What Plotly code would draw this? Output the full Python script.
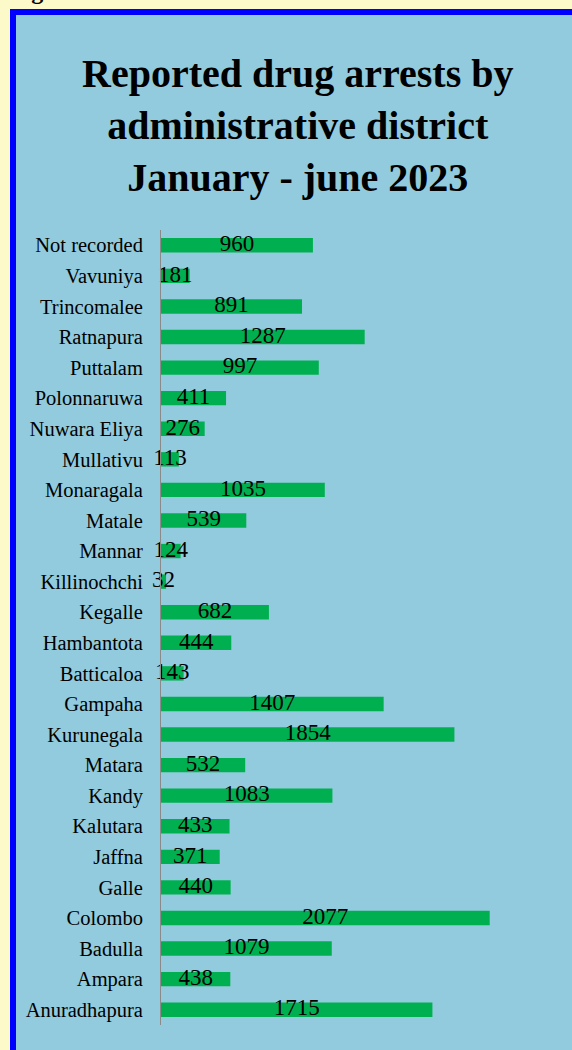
import plotly.graph_objects as go

districts = ["Not recorded", "Vavuniya", "Trincomalee", "Ratnapura", "Puttalam",
             "Polonnaruwa", "Nuwara Eliya", "Mullativu", "Monaragala", "Matale",
             "Mannar", "Killinochchi", "Kegalle", "Hambantota", "Batticaloa",
             "Gampaha", "Kurunegala", "Matara", "Kandy", "Kalutara", "Jaffna",
             "Galle", "Colombo", "Badulla", "Ampara", "Anuradhapura"]
arrests = [960, 181, 891, 1287, 997, 411, 276, 113, 1035, 539, 124, 32, 682,
           444, 143, 1407, 1854, 532, 1083, 433, 371, 440, 2077, 1079, 438, 1715]

W, H = 572, 1050
L, R, T, B = 161, 47, 230, 25
pw, ph = W - L - R, H - T - B

def px_x(x):
    return (x - L) / pw

def px_y(y):
    return (H - B - y) / ph

serif = "Liberation Serif, Times New Roman, serif"

fig = go.Figure()
fig.add_trace(go.Bar(
    x=arrests, y=districts, orientation="h",
    marker=dict(color="#00B050", line=dict(width=0)),
    hoverinfo="skip",
))
fig.add_trace(go.Scatter(
    x=[v / 2 for v in arrests], y=districts, mode="text",
    text=[str(v) for v in arrests], textposition="middle center",
    textfont=dict(family=serif, size=23, color="black"),
    hoverinfo="skip", cliponaxis=False,
))

fig.update_layout(
    width=W, height=H,
    margin=dict(l=L, r=R, t=T, b=B),
    paper_bgcolor="#FBFAC8",
    plot_bgcolor="rgba(0,0,0,0)",
    showlegend=False,
    bargap=0.53,
    xaxis=dict(range=[0, 2300], visible=False, fixedrange=True),
    yaxis=dict(range=[len(districts) - 0.5, -0.5], autorange=False,
               showline=True, linecolor="#8A8A8A",
               linewidth=1, showgrid=False, ticks="", ticklabelstandoff=13,
               tickfont=dict(family=serif, size=20.5, color="black"),
               fixedrange=True),
    shapes=[dict(type="rect", xref="paper", yref="paper", layer="below",
                 x0=px_x(13), x1=px_x(620), y0=px_y(1100), y1=px_y(12),
                 line=dict(color="#0000FF", width=6), fillcolor="#92CBDD")],
    annotations=[
        dict(text="<b>Reported drug arrests by<br>administrative district<br>January - june 2023</b>",
             xref="paper", yref="paper", x=px_x(297), y=px_y(125),
             xanchor="center", yanchor="middle", showarrow=False,
             font=dict(family=serif, size=40, color="black"), align="center"),
        dict(text="<b>Figure 02</b>", xref="paper", yref="paper",
             x=px_x(8), y=px_y(6), xanchor="left", yanchor="bottom",
             showarrow=False, font=dict(family=serif, size=24, color="black")),
    ],
)
fig.write_html("out.html", config={"displayModeBar": False},
               post_script="document.body.style.margin='0';document.body.style.overflow='hidden';")
